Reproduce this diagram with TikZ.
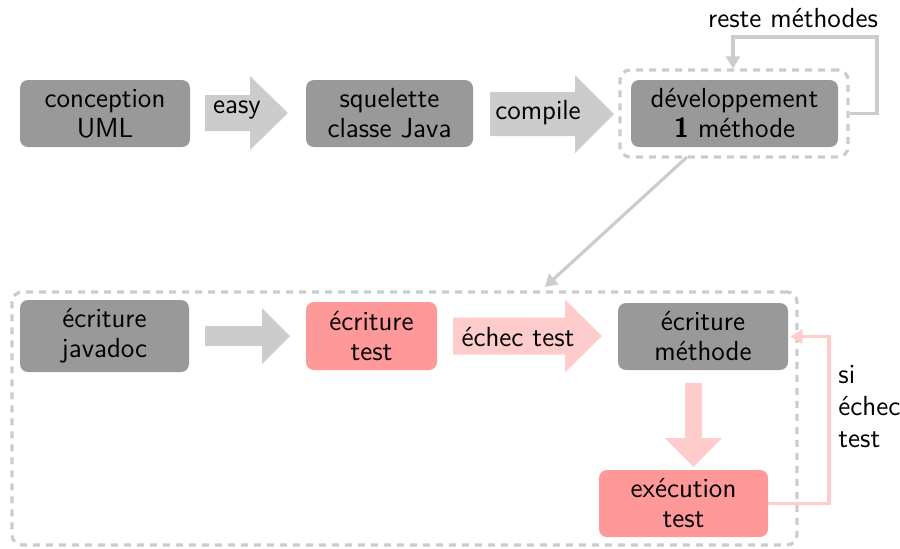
\documentclass[tikz,border=0pt]{standalone}
\usepackage{fontspec}
\usetikzlibrary{arrows.meta}
\definecolor{boxgray}{HTML}{999999}
\definecolor{arrgray}{HTML}{CCCCCC}
\definecolor{boxred}{HTML}{FF9999}
\definecolor{arrpink}{HTML}{FFCCCC}
\newcommand\myRarrow[7]{%
  \fill[#1] (#2,#5-#6) -- (#3,#5-#6) -- (#3,#5-#7) -- (#4,#5) -- (#3,#5+#7) -- (#3,#5+#6) -- (#2,#5+#6) -- cycle;}
\newcommand\myDarrow[7]{%
  \fill[#1] (#5-#6,#2) -- (#5-#6,#3) -- (#5-#7,#3) -- (#5,#4) -- (#5+#7,#3) -- (#5+#6,#3) -- (#5+#6,#2) -- cycle;}
\begin{document}
\begin{tikzpicture}[x=0.5pt,y=-0.5pt,
  every node/.style={font=\sffamily\fontsize{13.8}{15}\selectfont, text=black},
  box/.style={rounded corners=4pt, fill=boxgray, align=center, inner sep=0pt, minimum height=33.5pt},
  redbox/.style={box, fill=boxred},
  frame/.style={draw=arrgray, line width=1.6pt, dash pattern=on 3.5pt off 3pt, rounded corners=5pt, inner sep=0pt},
  gline/.style={draw=arrgray, line width=1.6pt, -{Triangle[length=6pt,width=7pt]}},
  rline/.style={draw=arrpink, line width=1.6pt, -{Triangle[length=6pt,width=7pt]}},
  lbl/.style={inner sep=0pt, align=center}]
\useasboundingbox (0,0) rectangle (900,548);
% block arrows
\myRarrow{arrgray}{205}{250}{288}{113}{18}{37}
\myRarrow{arrgray}{490}{575}{614}{114}{22}{39}
\myRarrow{arrgray}{205}{262}{290}{336}{10}{28}
\myRarrow{arrpink}{453}{565}{602}{336}{18.5}{36.5}
\myDarrow{arrpink}{383}{438}{467}{693.5}{8.5}{28.5}
\node[lbl] (easy) at (237,110) {easy};
\node[lbl] (compile) at (538,113) {compile};
\node[lbl] (echec) at (518,337) {échec test};
% frames
\node[frame, minimum width=114pt, minimum height=43.5pt] (devframe) at (734,113.5) {};
\node[frame, minimum width=392.5pt, minimum height=126.5pt] (bigframe) at (404.5,418.5) {};
% boxes
\node[box, minimum width=85pt] (uml) at (105,113.5) {conception\\UML};
\node[box, minimum width=83.5pt] (squel) at (389.5,113.5) {squelette\\classe Java};
\node[box, minimum width=103.5pt] (dev) at (734.5,113.5) {développement\\\textbf{1} méthode};
\node[box, minimum width=84.5pt, minimum height=36pt] (javadoc) at (104.5,336) {écriture\\javadoc};
\node[redbox, minimum width=65.5pt, minimum height=34pt] (etest) at (371.5,336) {écriture\\test};
\node[box, minimum width=85pt] (emeth) at (703,336.5) {écriture\\méthode};
\node[redbox, minimum width=84.5pt] (exec) at (683.5,503.5) {exécution\\test};
% loops and connectors
\coordinate (gtop) at (877,37);
\draw[gline] (devframe.east) -| (gtop) -| ([xshift=-0.5pt]devframe.north);
\node[lbl] (reste) at (793,18) {reste méthodes};
\coordinate (dstart) at (687,157);
\coordinate (dend) at (545,287);
\draw[gline] (dstart) -- (dend);
\coordinate (rc) at (829,336.5);
\draw[rline] (exec.east) -| (rc) -- ([xshift=1pt]emeth.east);
\node[lbl, anchor=west, align=left, font=\sffamily\fontsize{13.8}{16}\selectfont] (si) at (838,407) {si\\échec\\test};
\end{tikzpicture}
\end{document}
